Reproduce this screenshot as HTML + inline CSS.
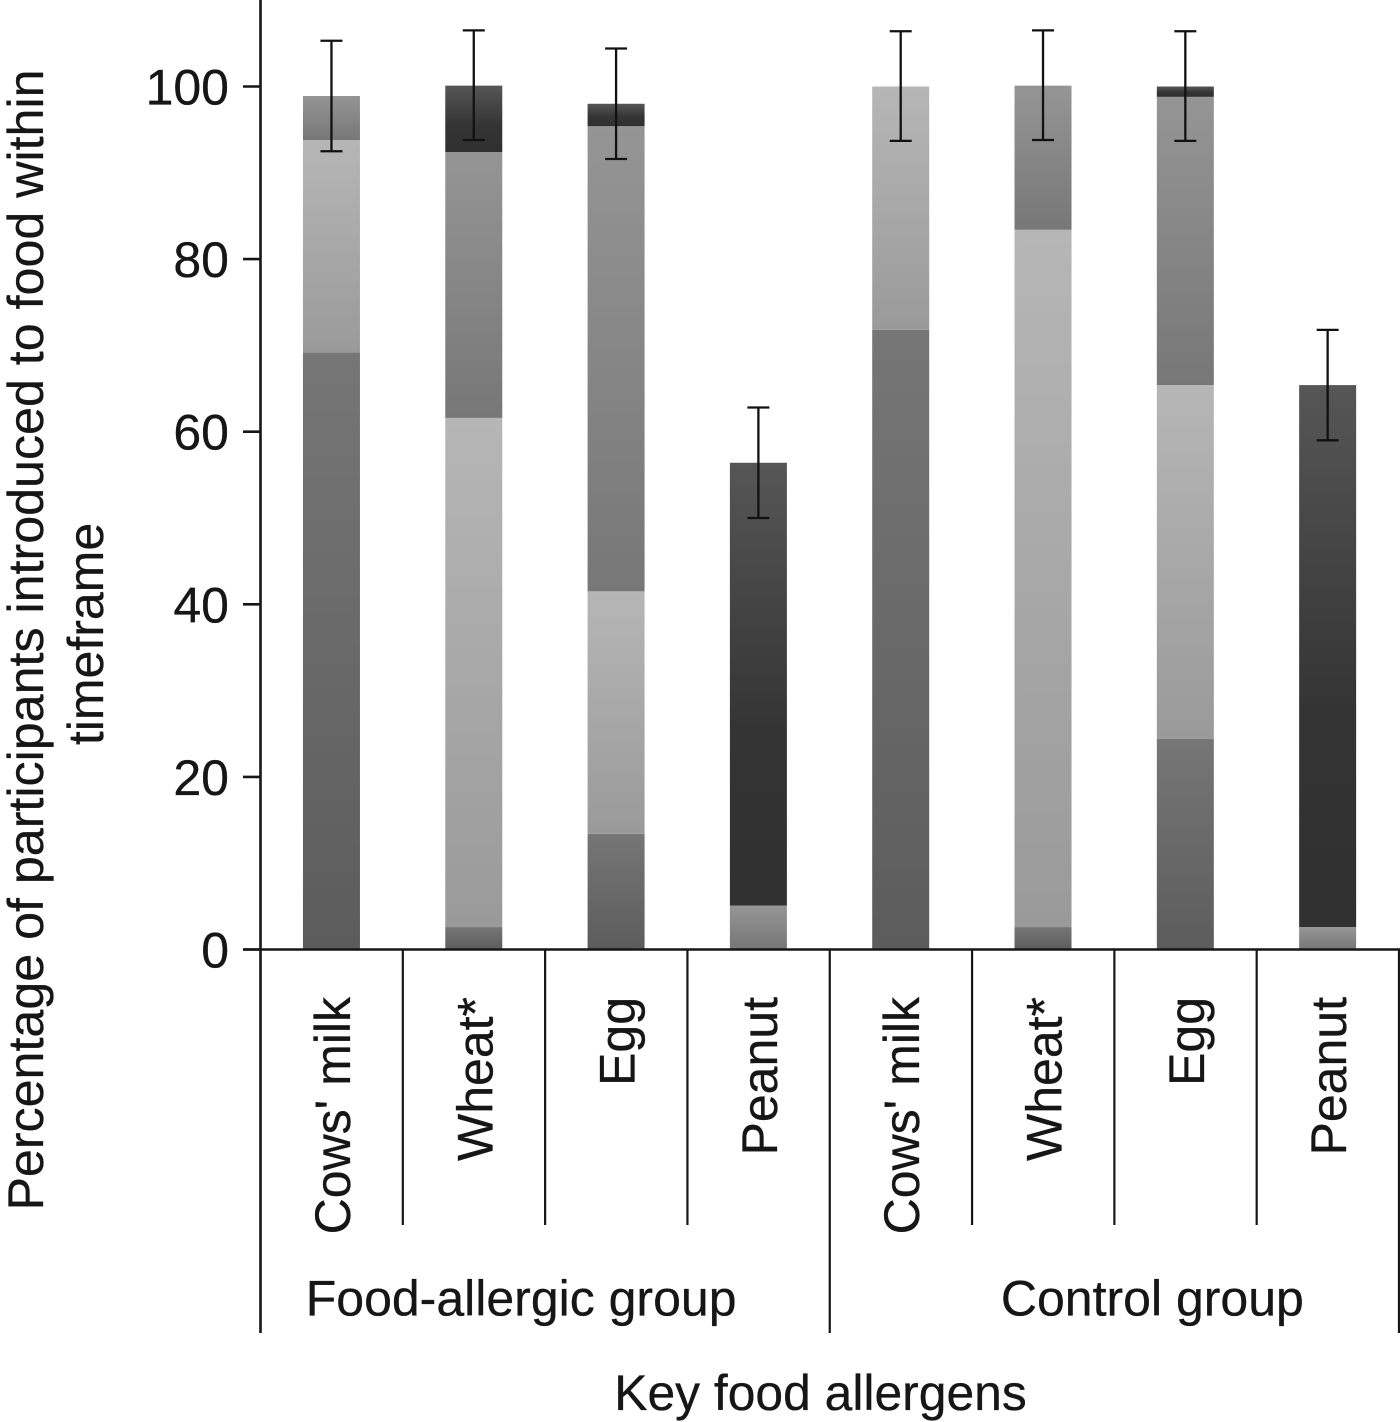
<!DOCTYPE html>
<html lang="en">
<head>
<meta charset="utf-8">
<title>Food introduction chart</title>
<style>
html,body{margin:0;padding:0;background:#fff;width:1400px;height:1422px;overflow:hidden}
svg{display:block}
text{font-family:"Liberation Sans",sans-serif;font-size:50px;fill:#161616;stroke:#161616;stroke-width:0.3px}
</style>
</head>
<body>
<svg id="chart" xmlns="http://www.w3.org/2000/svg" width="1400" height="1422" viewBox="0 0 1400 1422">
  <defs>
    <linearGradient id="grad-a" x1="0" y1="0" x2="0" y2="1"><stop offset="0" stop-color="#767676"/><stop offset="1" stop-color="#5c5c5c"/></linearGradient>
    <linearGradient id="grad-b" x1="0" y1="0" x2="0" y2="1"><stop offset="0" stop-color="#b6b6b6"/><stop offset="1" stop-color="#9a9a9a"/></linearGradient>
    <linearGradient id="grad-c" x1="0" y1="0" x2="0" y2="1"><stop offset="0" stop-color="#959595"/><stop offset="1" stop-color="#777777"/></linearGradient>
    <linearGradient id="grad-d" x1="0" y1="0" x2="0" y2="1"><stop offset="0" stop-color="#565656"/><stop offset="0.6" stop-color="#343434"/><stop offset="1" stop-color="#303030"/></linearGradient>
  </defs>
  <g id="bars"></g>
  <g id="errors"></g>
  <g id="axes"></g>
  <g id="labels"></g>
  <g>
    <text transform="translate(43 640) rotate(-90)" text-anchor="middle" style="font-size:50.2px">Percentage of participants introduced to food within</text>
    <text transform="translate(103 634) rotate(-90)" text-anchor="middle">timeframe</text>
  </g>
  <text x="820.5" y="1410" text-anchor="middle" style="font-size:49.8px">Key food allergens</text>
</svg>
<script>
const categories = ["Cows' milk", "Wheat*", "Egg", "Peanut", "Cows' milk", "Wheat*", "Egg", "Peanut"];
const groups = ["Food-allergic group", "Control group"];
const yTicks = [0, 20, 40, 60, 80, 100];
const seriesA = [69.2, 2.6, 13.4, 0, 71.8, 2.6, 24.4, 0];
const seriesB = [24.6, 59.0, 28.1, 0, 28.2, 80.8, 41.0, 0];
const seriesC = [5.1, 30.8, 53.9, 5.1, 0, 16.7, 33.4, 2.6];
const seriesD = [0, 7.7, 2.6, 51.3, 0, 0, 1.2, 62.8];
const errorLow = [92.5, 93.8, 91.6, 50.0, 93.7, 93.8, 93.7, 59.0];
const errorHigh = [105.3, 106.5, 104.4, 62.8, 106.4, 106.5, 106.4, 71.8];

const svgNS = 'http://www.w3.org/2000/svg';
const plotLeft = 260.5, plotRight = 1399, baseY = 949.5, pxPerUnit = 8.63;
const catWidth = (plotRight - plotLeft) / categories.length;
const barWidth = 57;
const yScale = v => baseY - v * pxPerUnit;
const xCenter = i => plotLeft + catWidth * (i + 0.5) - 0.2;
const make = (tag, parent, props) => {
  const el = document.createElementNS(svgNS, tag);
  for (const k in props) el.setAttribute(k, props[k]);
  parent.appendChild(el);
  return el;
};
const barsG = document.getElementById('bars');
const errG = document.getElementById('errors');
const axesG = document.getElementById('axes');
const labelsG = document.getElementById('labels');
const stackSeries = [
  { key: 'a', values: seriesA },
  { key: 'b', values: seriesB },
  { key: 'c', values: seriesC },
  { key: 'd', values: seriesD }
];
categories.forEach((cat, i) => {
  let cum = 0;
  stackSeries.forEach(s => {
    const v = s.values[i];
    if (v <= 0) return;
    const top = yScale(cum + v), bottom = yScale(cum);
    const r = make('rect', barsG, { x: xCenter(i) - barWidth / 2, y: top, width: barWidth, height: bottom - top, fill: 'url(#grad-' + s.key + ')' });
    
    
    cum += v;
  });
  const cx = xCenter(i), yHi = yScale(errorHigh[i]), yLo = yScale(errorLow[i]);
  const st = { stroke: '#111111', 'stroke-width': 2.3, fill: 'none' };
  const stem = make('line', errG, { x1: cx, x2: cx, y1: yHi, y2: yLo, ...st });
  
  
  const capHi = make('line', errG, { x1: cx - 11, x2: cx + 11, y1: yHi, y2: yHi, ...st });
  
  
  const capLo = make('line', errG, { x1: cx - 11, x2: cx + 11, y1: yLo, y2: yLo, ...st });
  
  
  const lab = make('text', labelsG, { transform: 'translate(' + (cx + 18.5) + ' 997) rotate(-90)', 'text-anchor': 'end' });
  lab.textContent = cat;
  
  
});
const axisStyle = { stroke: '#161616', 'stroke-width': 2.6 };
const yAxis = make('line', axesG, { x1: plotLeft, x2: plotLeft, y1: 0, y2: 1333, ...axisStyle });


const xAxis = make('line', axesG, { x1: 243, x2: plotRight + 1, y1: baseY, y2: baseY, ...axisStyle });


yTicks.forEach(t => {
  const y = yScale(t);
  const tick = make('line', axesG, { x1: 243, x2: plotLeft, y1: y, y2: y, ...axisStyle });
  
  
  const lab = make('text', labelsG, { x: 229, y: y + 18, 'text-anchor': 'end' });
  lab.textContent = t;
  
  
});
for (let i = 1; i <= categories.length; i++) {
  const x = plotLeft + catWidth * i;
  const major = i % (categories.length / groups.length) === 0;
  const sep = make('line', axesG, { x1: x, x2: x, y1: baseY, y2: major ? 1333 : 1225, ...axisStyle, 'stroke-width': 2.2 });
  
  
}
groups.forEach((g, i) => {
  const span = catWidth * categories.length / groups.length;
  const lab = make('text', labelsG, { x: plotLeft + span * (i + 0.5) + (i === 0 ? -24 : 38), y: 1315.5, 'text-anchor': 'middle' });
  lab.textContent = g;
  
  
});
</script>
</body>
</html>
